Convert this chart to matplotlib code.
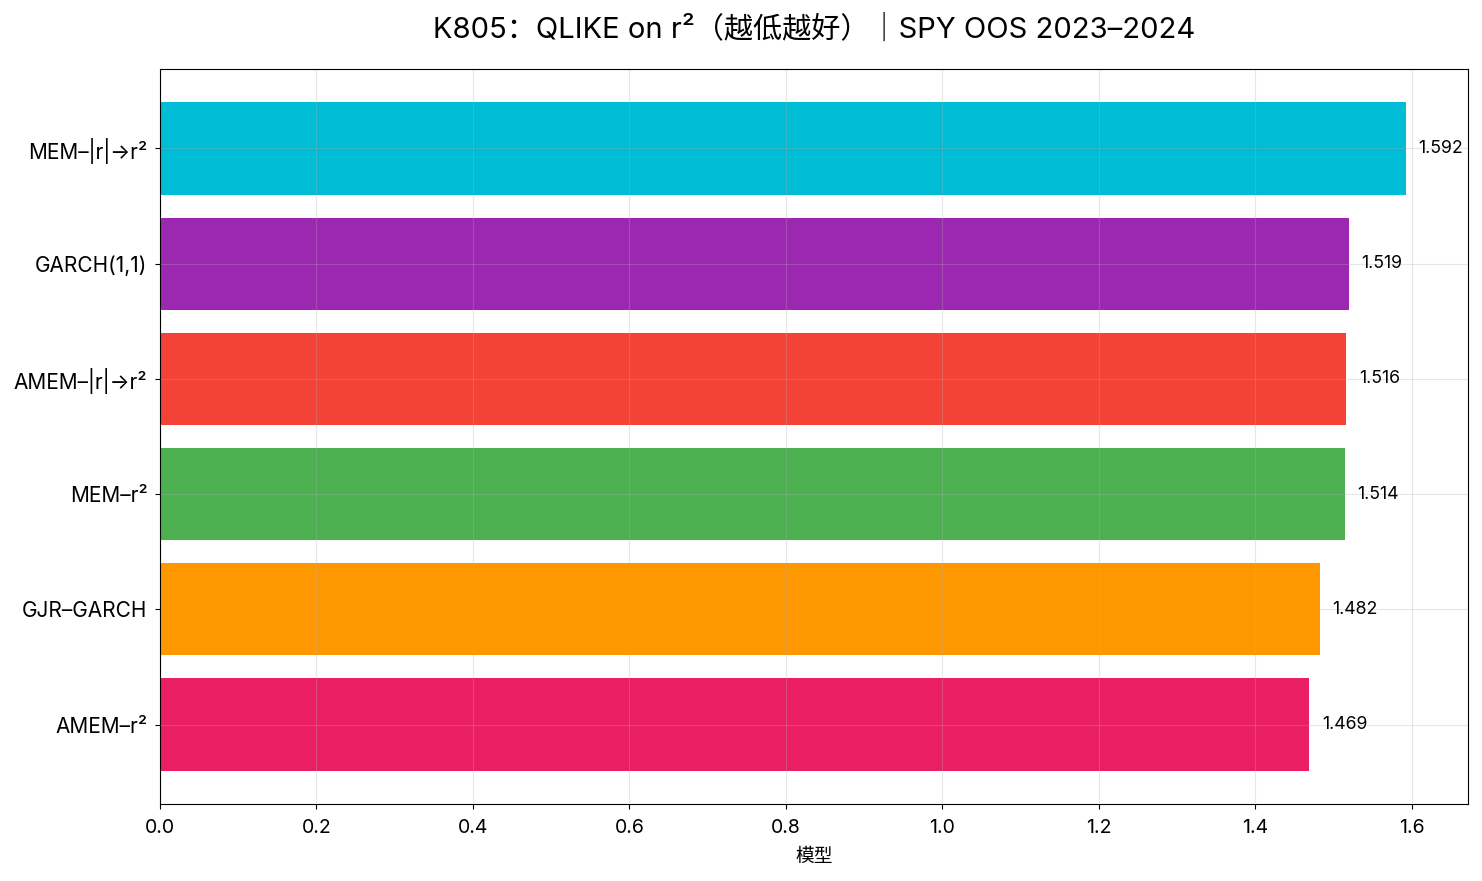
import matplotlib
matplotlib.use('Agg')
import matplotlib.pyplot as plt

plt.rcParams['font.family'] = ['Inter', 'Noto Sans CJK SC', 'DejaVu Sans']

# data, bottom to top
models = ['AMEM–r²', 'GJR–GARCH', 'MEM–r²', 'AMEM–|r|→r²', 'GARCH(1,1)', 'MEM–|r|→r²']
qlike = [1.469, 1.482, 1.514, 1.516, 1.519, 1.592]
colors = ['#E91E63', '#FF9800', '#4CAF50', '#F44336', '#9C27B0', '#00BCD4']

fig = plt.figure(figsize=(14.82, 8.81), dpi=100)
ax = fig.add_axes([160/1482, 1-804/881, (1468-160)/1482, (804-69)/881])

ax.barh(models, qlike, color=colors, height=0.8)
for i, v in enumerate(qlike):
    ax.text(v + 0.016, i, f'{v:.3f}', va='center', ha='left', fontsize=12.8)

ax.grid(alpha=0.3)
ax.tick_params(axis='y', labelsize=15, pad=5.5)
ax.tick_params(axis='x', labelsize=14, pad=7.5)
ax.set_xlabel('模型', fontsize=13.5, labelpad=8)
ax.set_title('K805：QLIKE on r²（越低越好）｜SPY OOS 2023–2024', fontsize=21, pad=22.5)

fig.savefig('out.png', dpi=100)
